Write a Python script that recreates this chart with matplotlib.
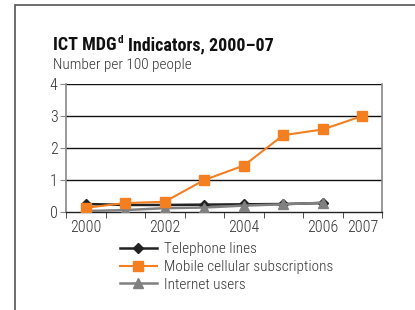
import matplotlib
matplotlib.use("Agg")
import matplotlib.pyplot as plt
from matplotlib.lines import Line2D
from matplotlib.patches import Rectangle

years = ["2000", "2001", "2002", "2003", "2004", "2005", "2006", "2007"]
tick_labels = ["2000", "", "2002", "", "2004", "", "2006", "2007"]
telephone = [0.25, 0.22, 0.22, 0.23, 0.24, 0.25, 0.28]
mobile = [0.13, 0.28, 0.32, 1.0, 1.45, 2.4, 2.58, 3.0]
internet = [0.03, 0.06, 0.12, 0.14, 0.20, 0.24, 0.29]

FAM = ["Roboto Condensed", "Archivo Narrow", "Liberation Sans Narrow", "DejaVu Sans"]
plt.rcParams['font.family'] = FAM
LW = 300

fig = plt.figure(figsize=(4.15, 3.10), dpi=100)
fig.patches.append(Rectangle((15/415, -0.1), 1.0, 1 - 5/310 + 0.1, transform=fig.transFigure,
                             fill=False, edgecolor="#555555", linewidth=1.2))

ax = fig.add_axes([66/415, 1 - 212/310, (382 - 66)/415, (212 - 84)/310])

x_tel = list(range(len(telephone)))
x_mob = list(range(len(mobile)))
x_int = list(range(len(internet)))

ax.plot(x_tel, telephone, color="#222222", marker="D", markersize=5, linewidth=1.8, zorder=3)
ax.plot(x_int, internet, color="#808080", marker="^", markersize=7, linewidth=1.8, zorder=4)
ax.plot(x_mob, mobile, color="#f47f20", marker="s", markersize=6.5, linewidth=1.5, zorder=5)

ax.set_xlim(-0.5, len(years) - 0.5)
ax.set_ylim(0, 4)
ax.set_yticks([0, 1, 2, 3, 4])
ax.set_yticklabels(["0", "1", "2", "3", "4"], fontsize=11.5, color="#333333", fontweight=LW)
for y in [1, 2, 3, 4]:
    ax.axhline(y, color="#111111", linewidth=1.0, zorder=1)

ax.set_xticks([i for i in range(len(years))])
ax.set_xticklabels(tick_labels, fontsize=11.5, color="#333333", fontweight=LW)
ax.tick_params(axis="x", length=0, pad=6)
ax.set_xticks([i - 0.5 for i in range(len(years) + 1)], minor=True)
ax.tick_params(axis="x", which="minor", length=4, direction="out", color="#333333")
ax.tick_params(axis="y", length=4, direction="out", color="#888888", pad=2)

for s in ["left", "right"]:
    ax.spines[s].set_color("#888888")
    ax.spines[s].set_linewidth(1.2)
ax.spines["top"].set_visible(False)
ax.spines["bottom"].set_color("#222222")
ax.spines["bottom"].set_linewidth(1.0)

t = fig.text(53/415, 1 - 45/310, "ICT MDG", fontsize=13,
             fontweight="bold", color="#111111", va="center", ha="left")
fig.canvas.draw()
r = fig.canvas.get_renderer()
bb = t.get_window_extent(r)
x1 = bb.x1 / fig.bbox.width
sup = fig.text(x1 + 0.002, 1 - 40/310, "d", fontsize=8, fontweight="bold", color="#111111",
               va="center", ha="left")
bb2 = sup.get_window_extent(r)
fig.text(bb2.x1 / fig.bbox.width + 0.011, 1 - 45/310, "Indicators, 2000–07", fontsize=13,
         fontweight="bold", color="#111111", va="center", ha="left")
fig.text(53/415, 1 - 65/310, "Number per 100 people", fontsize=11, color="#333333",
         va="center", ha="left", fontweight=LW)

handles = [
    Line2D([], [], color="#222222", marker="D", markersize=5, linewidth=1.8),
    Line2D([], [], color="#f47f20", marker="s", markersize=6.5, linewidth=1.5),
    Line2D([], [], color="#808080", marker="^", markersize=7, linewidth=1.8),
]
labels = ["Telephone lines", "Mobile cellular subscriptions", "Internet users"]
fig.legend(handles, labels, loc="upper left", bbox_to_anchor=(114/415, 1 - 236/310),
           frameon=False, prop={"size": 11, "weight": LW}, handlelength=2.4,
           labelspacing=0.25, handletextpad=0.5, borderaxespad=0, labelcolor="#333333")

fig.savefig("out.png", dpi=100)
